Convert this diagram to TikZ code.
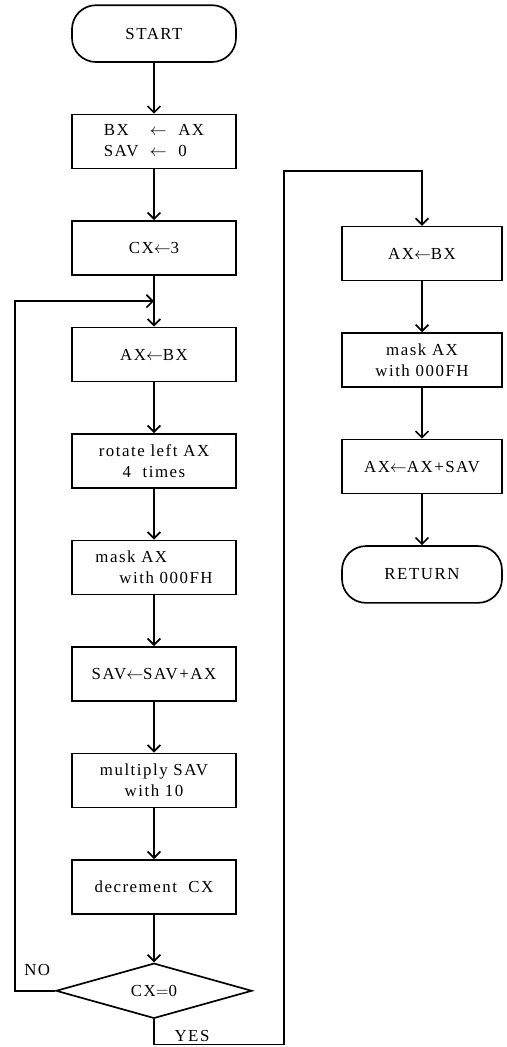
\documentclass[tikz,border=0pt]{standalone}
\usepackage{fontspec}
\setmainfont{Liberation Serif}[LetterSpace=9]
\usetikzlibrary{calc,arrows.meta,positioning,shapes.geometric}
\tikzset{
  block/.style={draw=black, line width=1.2pt, align=center, fill=white,
    minimum width=4.1cm, minimum height=1.35cm, inner sep=3pt},
  term/.style={block, rounded corners=0.6cm, minimum height=1.42cm},
  test/.style={diamond, draw=black, line width=1.2pt, aspect=3.6, inner sep=0pt,
    minimum width=4.9cm, minimum height=1.38cm},
  arr/.style={-{Straight Barb[length=1.6mm,width=3.2mm]}, line width=1.2pt}
}

\begin{document}
\begin{tikzpicture}[node distance=1.27cm, font=\fontsize{12}{15}\selectfont]
  \useasboundingbox (0,0) rectangle (12.675,-26.175);

  % main column
  \node[term] (start) at (3.85,-0.84) {START};
  \node[block, below=of start] (init) {\begin{tabular}{@{}l@{\ \ }c@{\ \ }l@{}}BX & $\leftarrow$ & AX\\ SAV & $\leftarrow$ & 0\end{tabular}};
  \node[block, below=of init] (setcx) {CX$\leftarrow$3};
  \node[block, below=of setcx] (fetch) {AX$\leftarrow$BX};
  \node[block, below=of fetch] (rot) {rotate left AX\\4 \ times};
  \node[block, below=of rot, align=left] (mask) {mask AX\\\hspace{0.6cm}with 000FH};
  \node[block, below=of mask] (sum) {SAV$\leftarrow$SAV+AX};
  \node[block, below=of sum] (mul) {multiply SAV\\with 10};
  \node[block, below=of mul] (dec) {decrement \ CX};
  \node[test, below=1.19cm of dec] (zero) {CX$=$0};

  % right column
  \node[block, minimum width=4.0cm] (load) at (10.55,-6.34) {AX$\leftarrow$BX};
  \node[block, minimum width=4.0cm, below=of load] (mask2) {mask AX\\with 000FH};
  \node[block, minimum width=4.0cm, below=of mask2] (add) {AX$\leftarrow$AX+SAV};
  \node[term, minimum width=4.0cm, below=of add] (ret) {RETURN};

  \coordinate (merge) at ($(setcx.south)!0.5!(fetch.north)$);

  \draw[arr] (start) -- (init);
  \draw[arr] (init) -- (setcx);
  \draw[arr] (setcx) -- (fetch);
  \draw[arr] (fetch) -- (rot);
  \draw[arr] (rot) -- (mask);
  \draw[arr] (mask) -- (sum);
  \draw[arr] (sum) -- (mul);
  \draw[arr] (mul) -- (dec);
  \draw[arr] (dec) -- (zero);

  \draw[arr] (zero.west) -- ++(-1.01,0) |- (merge);
  \draw[arr] (zero.south) -- ++(0,-0.63) -| ($(load.north)+(-3.45,1.375)$) -| (load.north);

  \draw[arr] (load) -- (mask2);
  \draw[arr] (mask2) -- (add);
  \draw[arr] (add) -- (ret);

  \node (no) at (0.93,-24.25) {NO};
  \node (yes) at (4.8,-25.9) {YES};
\end{tikzpicture}
\end{document}
